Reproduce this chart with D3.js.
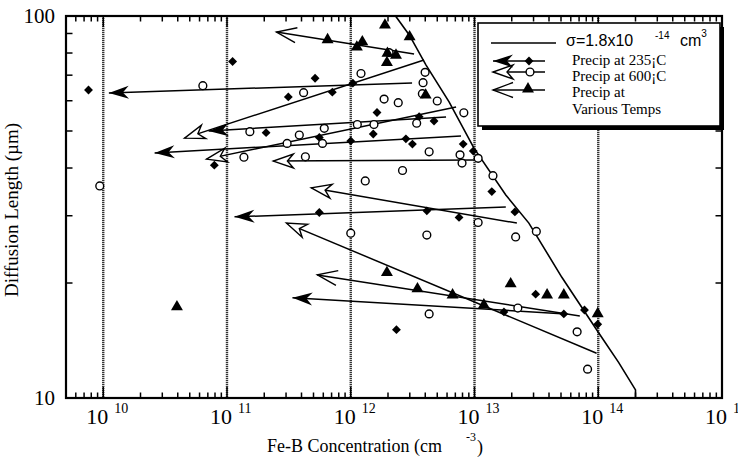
<!DOCTYPE html>
<meta charset="utf-8">
<script src="https://d3js.org/d3.v7.min.js"></script>
<style>
  body { margin: 0; background: #fff; }
</style>
<body>
<script>

// sigma = 1.8e-14 cm^3 limit line, [Fe-B conc, diffusion length]
var sigmaLine = [[2.3e12,100],[2.97e12,89.2],[4.06e12,74.4],[6.23e12,59.6],[9.9e12,45.1],
  [1.79e13,34.0],[2.75e13,28.7],[5.08e13,20.7],[1.01e14,14.8],[1.46e14,12.4],[2.0e14,10.5],[2.0e14,10]];

// precipitated at 235 C (diamonds)
var precip235 = [[7.6e9,64.0],[1.11e11,76.0],[5.15e11,68.7],[3.13e11,61.4],[7.1e11,63.2],[1.04e12,66.7],
  [2.07e11,49.5],[5.57e11,48.1],[1.0e12,47.1],[7.9e10,40.7],[1.63e12,55.9],[1.52e12,49.1],
  [2.79e12,47.7],[3.15e12,46.2],[3.57e12,54.5],[4.71e12,53.1],[8.1e12,46.2],[9.77e12,44.3],
  [1.38e13,34.7],[5.57e11,30.6],[4.12e12,30.9],[7.5e12,29.7],[2.12e13,30.7],[3.12e13,18.7],
  [1.73e13,16.8],[5.27e13,16.6],[7.74e13,17.0],[9.9e13,15.6],[2.34e12,15.1]];

// precipitated at 600 C (circles)
var precip600 = [[6.38e10,65.7],[4.16e11,63.0],[1.53e11,49.8],[3.84e11,48.8],[6.11e11,50.8],[3.06e11,46.4],
  [5.91e11,46.4],[1.37e11,42.7],[4.3e11,42.8],[9.37e9,35.9],[1.21e12,70.7],[1.86e12,60.6],
  [2.42e12,59.3],[1.13e12,52.0],[1.54e12,52.0],[3.41e12,52.4],[3.99e12,71.2],[3.84e12,66.9],
  [3.79e12,62.6],[5.0e12,59.9],[8.2e12,55.8],[4.3e12,44.1],[7.64e12,43.3],[7.93e12,41.2],
  [1.07e13,42.4],[1.41e13,38.2],[2.62e12,39.4],[1.31e12,37.0],[1.07e13,28.8],[2.15e13,26.4],
  [3.16e13,27.3],[1.0e12,27.0],[4.12e12,26.7],[4.3e12,16.6],[2.24e13,17.2],[6.75e13,14.9],
  [8.2e13,11.9],[2.04e12,80.2]];

// precipitated at various temps (triangles)
var precipVarious = [[1.89e12,95.1],[6.5e11,87.1],[1.24e12,86.0],[1.12e12,83.3],[2.99e12,88.6],
  [1.98e12,80.2],[2.32e12,79.3],[1.96e12,75.9],[4.03e12,62.4],[3.94e10,17.4],[1.96e12,21.4],
  [3.46e12,19.4],[6.65e12,18.7],[1.19e13,17.6],[1.96e13,20.0],[3.86e13,18.7],[5.27e13,18.7],
  [9.9e13,16.7]];

// arrows: [conc from, length from, conc to, length to]
var arrows235 = [[3.13e12,66.8,1.11e10,62.9],[5.89e12,54.4,7.1e10,50.0],[7.78e12,48.5,2.6e10,43.8],
  [1.79e13,31.6,1.15e11,29.8],[5.47e13,16.6,3.38e11,18.3]];
var arrows600 = [[3.91e12,76.7,4.54e10,47.9],[7.1e12,57.8,6.84e10,42.2],[9.9e12,42.0,2.37e11,41.7],
  [2.2e13,28.7,4.8e11,35.5],[9.7e13,13.1,3.02e11,28.7]];
var arrowsVarious = [[3.25e12,79.5,2.51e11,90.8],[7.1e13,16.4,5.37e11,21.0]];

var xTickExp = [10, 11, 12, 13, 14, 15];
var yTickLabels = [10, 100];

var serif = "'Liberation Serif', 'Times New Roman', 'DejaVu Serif', serif";
var sans = "'Liberation Sans', Arial, sans-serif";

var width = 738, height = 466;
var margin = {top: 16, right: 16, bottom: 68, left: 66};

var svg = d3.select("body").append("svg")
    .attr("width", width)
    .attr("height", height);

var x = d3.scaleLog().domain([5e9, 1e15]).range([margin.left, width - margin.right]);
var y = d3.scaleLog().domain([10, 100]).range([height - margin.bottom, margin.top]);

var defs = svg.append("defs");
defs.append("marker").attr("id", "headFilled")
    .attr("markerUnits", "userSpaceOnUse").attr("viewBox", "-22 -8 24 16")
    .attr("markerWidth", 24).attr("markerHeight", 16)
    .attr("refX", 0).attr("refY", 0).attr("orient", "auto")
  .append("path").attr("d", "M0,0 L-20,-6.5 L-14,0 L-20,6.5 Z").attr("fill", "#000");
defs.append("marker").attr("id", "headOpen")
    .attr("markerUnits", "userSpaceOnUse").attr("viewBox", "-23 -9 26 18")
    .attr("markerWidth", 26).attr("markerHeight", 18)
    .attr("refX", 0).attr("refY", 0).attr("orient", "auto")
  .append("path").attr("d", "M0,0 L-20,-7 L-14,0 L-20,7 Z")
    .attr("fill", "#fff").attr("stroke", "#000").attr("stroke-width", 1.4);
defs.append("marker").attr("id", "headChevron")
    .attr("markerUnits", "userSpaceOnUse").attr("viewBox", "-23 -10 26 20")
    .attr("markerWidth", 26).attr("markerHeight", 20)
    .attr("refX", 0).attr("refY", 0).attr("orient", "auto")
  .append("path").attr("d", "M-20,-7.5 L0,0 L-20,7.5")
    .attr("fill", "none").attr("stroke", "#000").attr("stroke-width", 1.4);

// decade grid lines
svg.append("g").selectAll("line")
    .data(xTickExp.slice(0, 5))
  .enter().append("line")
    .attr("x1", function(d) { return x(Math.pow(10, d)); })
    .attr("x2", function(d) { return x(Math.pow(10, d)); })
    .attr("y1", y(100)).attr("y2", y(10))
    .attr("stroke", "#333").attr("stroke-width", 2.4)
    .attr("stroke-dasharray", "1.2,0.8");

// minor ticks
var xMinor = x.ticks().filter(function(d) { return d > 5e9 && d < 1e15; });
var yMinor = y.ticks().filter(function(d) { return d > 10 && d < 100; });
var ticks = svg.append("g").attr("stroke", "#000").attr("stroke-width", 1.5);
xMinor.forEach(function(d) {
  var major = Math.abs(Math.log10(d) - Math.round(Math.log10(d))) < 1e-6;
  var len = major ? 11 : 5.5;
  ticks.append("line").attr("x1", x(d)).attr("x2", x(d)).attr("y1", y(10)).attr("y2", y(10) - len);
  ticks.append("line").attr("x1", x(d)).attr("x2", x(d)).attr("y1", y(100)).attr("y2", y(100) + len);
});
yMinor.forEach(function(d) {
  ticks.append("line").attr("x1", x(5e9)).attr("x2", x(5e9) + 6.5).attr("y1", y(d)).attr("y2", y(d));
  ticks.append("line").attr("x1", x(1e15)).attr("x2", x(1e15) - 6.5).attr("y1", y(d)).attr("y2", y(d));
});

// frame
svg.append("rect")
    .attr("x", x(5e9)).attr("y", y(100))
    .attr("width", x(1e15) - x(5e9)).attr("height", y(10) - y(100))
    .attr("fill", "none").attr("stroke", "#000").attr("stroke-width", 2.2);

// sigma line
svg.append("path")
    .datum(sigmaLine)
    .attr("fill", "none").attr("stroke", "#000").attr("stroke-width", 1.6)
    .attr("d", d3.line().x(function(d) { return x(d[0]); }).y(function(d) { return y(d[1]); }));

// arrows
function drawArrows(data, marker) {
  svg.append("g").selectAll("line")
      .data(data)
    .enter().append("line")
      .attr("x1", function(d) { return x(d[0]); })
      .attr("y1", function(d) { return y(d[1]); })
      .attr("x2", function(d) { return x(d[2]); })
      .attr("y2", function(d) { return y(d[3]); })
      .attr("stroke", "#000").attr("stroke-width", 1.5)
      .attr("marker-end", "url(#" + marker + ")");
}
drawArrows(arrows235, "headFilled");
drawArrows(arrows600, "headOpen");
drawArrows(arrowsVarious, "headChevron");

// points
var diamond = d3.symbol().type(d3.symbolDiamond2).size(50);
var tri = d3.symbol().type(d3.symbolTriangle).size(62);

svg.append("g").selectAll("path")
    .data(precip235)
  .enter().append("path")
    .attr("transform", function(d) { return "translate(" + x(d[0]) + "," + y(d[1]) + ")"; })
    .attr("d", diamond).attr("fill", "#000");

svg.append("g").selectAll("circle")
    .data(precip600)
  .enter().append("circle")
    .attr("cx", function(d) { return x(d[0]); })
    .attr("cy", function(d) { return y(d[1]); })
    .attr("r", 3.9)
    .attr("fill", "#fff").attr("stroke", "#000").attr("stroke-width", 1.4);

svg.append("g").selectAll("path")
    .data(precipVarious)
  .enter().append("path")
    .attr("transform", function(d) { return "translate(" + x(d[0]) + "," + (y(d[1]) + 0.8) + ")"; })
    .attr("d", tri).attr("fill", "#000");

// tick labels
var xl = svg.append("g").attr("font-family", serif).attr("fill", "#000");
xTickExp.forEach(function(e) {
  var t = xl.append("text")
      .attr("x", x(Math.pow(10, e)) - 17).attr("y", 424)
      .attr("font-size", "22px");
  t.append("tspan").text("10");
  t.append("tspan").attr("dx", 6).attr("dy", -11).attr("font-size", "14px").text(e);
});
svg.append("g").attr("font-family", serif).selectAll("text")
    .data(yTickLabels)
  .enter().append("text")
    .attr("x", 55).attr("y", function(d) { return y(d) + 7; })
    .attr("text-anchor", "end")
    .attr("font-size", "21px")
    .text(function(d) { return d; });

// axis titles
var xt = svg.append("text").attr("font-family", serif)
    .attr("x", 267).attr("y", 452).attr("font-size", "18px");
xt.append("tspan").text("Fe-B Concentration (cm");
xt.append("tspan").attr("x", 466).attr("dy", -11).attr("font-size", "12px").text("-3");
xt.append("tspan").attr("x", 477).attr("dy", 12).text(")");

svg.append("text").attr("font-family", serif)
    .attr("transform", "translate(18,210) rotate(-90)")
    .attr("text-anchor", "middle")
    .attr("font-size", "19px")
    .text("Diffusion Length (\u00b5m)");

// legend
var lg = svg.append("g");
lg.append("rect").attr("x", 482).attr("y", 27).attr("width", 242).attr("height", 103).attr("fill", "#000");
lg.append("rect").attr("x", 478).attr("y", 23).attr("width", 242).attr("height", 103)
    .attr("fill", "#fff").attr("stroke", "#000").attr("stroke-width", 1.6);

lg.append("line").attr("x1", 491).attr("x2", 556).attr("y1", 43).attr("y2", 43)
    .attr("stroke", "#000").attr("stroke-width", 1.5);
var st = lg.append("text").attr("font-family", sans).attr("x", 566).attr("y", 46).attr("font-size", "16px");
st.append("tspan").text("\u03c3=1.8x10");
st.append("tspan").attr("x", 655).attr("dy", -7).attr("font-size", "10px").text("-14");
st.append("tspan").attr("x", 680).attr("dy", 7).text("cm");
st.append("tspan").attr("dy", -9).attr("font-size", "10px").text("3");

var rows = [
  {y: 61, marker: "headFilled", sym: "diamond"},
  {y: 72, marker: "headOpen", sym: "circle"},
  {y: 90, marker: "headChevron", sym: "tri"}
];
rows.forEach(function(r) {
  lg.append("line").attr("x1", 545).attr("x2", 493).attr("y1", r.y).attr("y2", r.y)
      .attr("stroke", "#000").attr("stroke-width", 1.5)
      .attr("marker-end", "url(#" + r.marker + ")");
  if (r.sym == "diamond") {
    lg.append("path").attr("transform", "translate(529," + r.y + ")").attr("d", diamond).attr("fill", "#000");
  } else if (r.sym == "circle") {
    lg.append("circle").attr("cx", 530).attr("cy", r.y).attr("r", 3.9)
        .attr("fill", "#fff").attr("stroke", "#000").attr("stroke-width", 1.4);
  } else {
    lg.append("path").attr("transform", "translate(528," + (r.y - 1) + ")").attr("d", tri).attr("fill", "#000");
  }
});

var legendText = ["Precip at 235\u00a1C", "Precip at 600\u00a1C", "Precip at", "Various Temps"];
var legendBase = [65, 80.5, 96.5, 113.5];
lg.append("g").attr("font-family", serif).selectAll("text")
    .data(legendText)
  .enter().append("text")
    .attr("x", 572).attr("y", function(d, i) { return legendBase[i]; })
    .attr("font-size", "15px")
    .text(function(d) { return d; });

</script>
</body>
</html>
